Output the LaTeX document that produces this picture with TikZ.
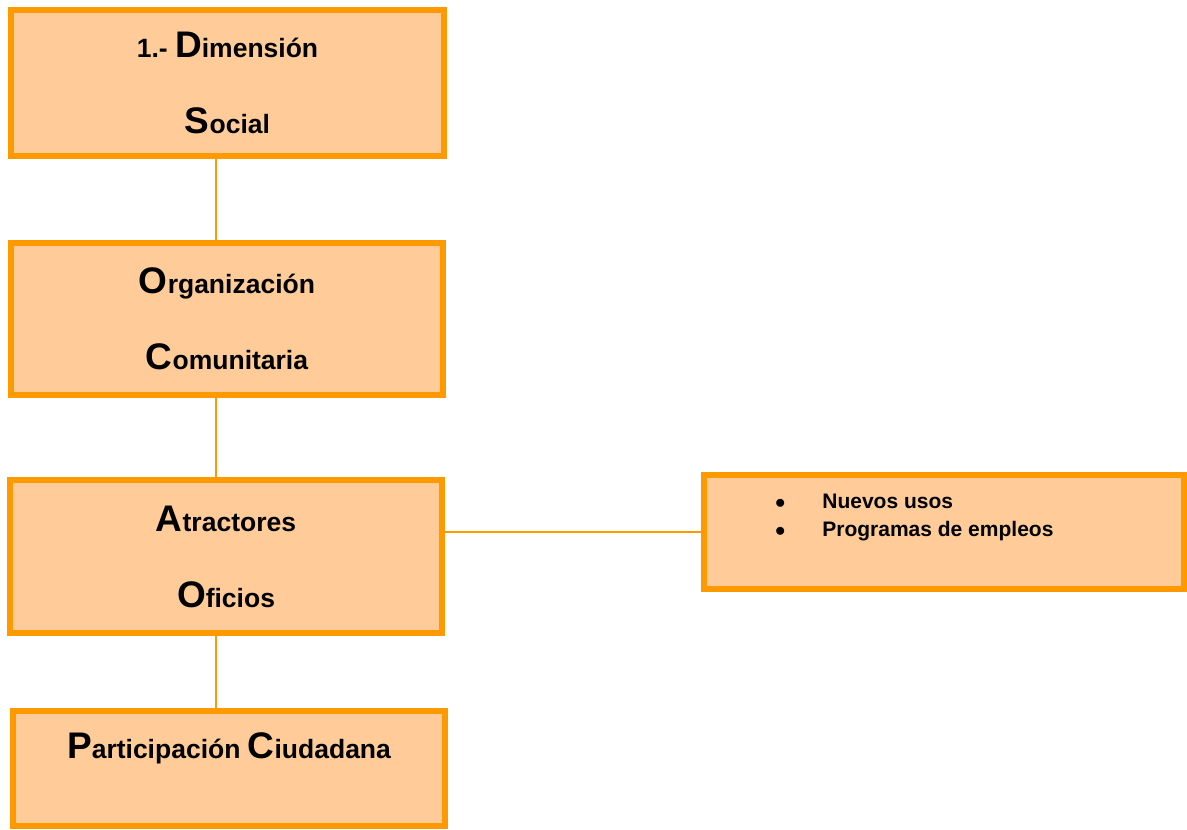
\documentclass[tikz,border=0pt]{standalone}
\usepackage{fontspec}
\setmainfont{Liberation Sans}
\usetikzlibrary{positioning}
\definecolor{boxfill}{HTML}{FFCC99}
\definecolor{boxline}{HTML}{FF9900}
\newcommand{\bigini}[1]{{\fontsize{37}{76}\selectfont #1}}
\begin{document}
\begin{tikzpicture}
      [x=1pt, y=1pt,
      box/.style={rectangle, draw=boxline, fill=boxfill, line width=6pt,
        outer sep=0pt, minimum width=432pt, minimum height=152pt, align=center,
        font=\bfseries\fontsize{26.5}{76}\selectfont},
      link/.style={draw=boxline, line width=1.5pt}]

      \useasboundingbox (0,0) rectangle (1187,-830);
      \coordinate (axis) at (216,0);

      \node [box, minimum width=433pt, minimum height=146pt] (D) at (227.5,-83)
        {1.- \bigini{D}imensión\\\bigini{S}ocial};
      \node [box, below=87pt of D, xshift=-0.5pt] (O) {\bigini{O}rganización\\\bigini{C}omunitaria};
      \node [box, below=85pt of O, xshift=-1pt, minimum height=153pt] (A)
        {\bigini{A}tractores\\\bigini{O}ficios};
      \node [box, below=78pt of A, xshift=3pt, minimum height=115pt, inner ysep=0pt,
        text height=47pt, text depth=68pt] (P)
        {\bigini{P}articipación \bigini{C}iudadana};
      \node [box, right=262pt of A, yshift=24.5pt, minimum width=480pt, minimum height=114pt,
        inner sep=0pt, text height=33pt, text depth=81pt,
        font=\bfseries\fontsize{21}{28}\selectfont] (U)
        {\makebox[480pt][l]{\hspace*{71pt}\begin{tabular}[t]{@{}l@{\hspace{37pt}}l@{}}
          $\bullet$ & Nuevos usos\\
          $\bullet$ & Programas de empleos
        \end{tabular}}};

      \draw [link] (D.south -| axis) -- (O.north -| axis);
      \draw [link] (O.south -| axis) -- (A.north -| axis);
      \draw [link] (A.south -| axis) -- (P.north -| axis);
      \draw [link] (U.west) -- (U.west -| A.east);
    \end{tikzpicture}
\end{document}
